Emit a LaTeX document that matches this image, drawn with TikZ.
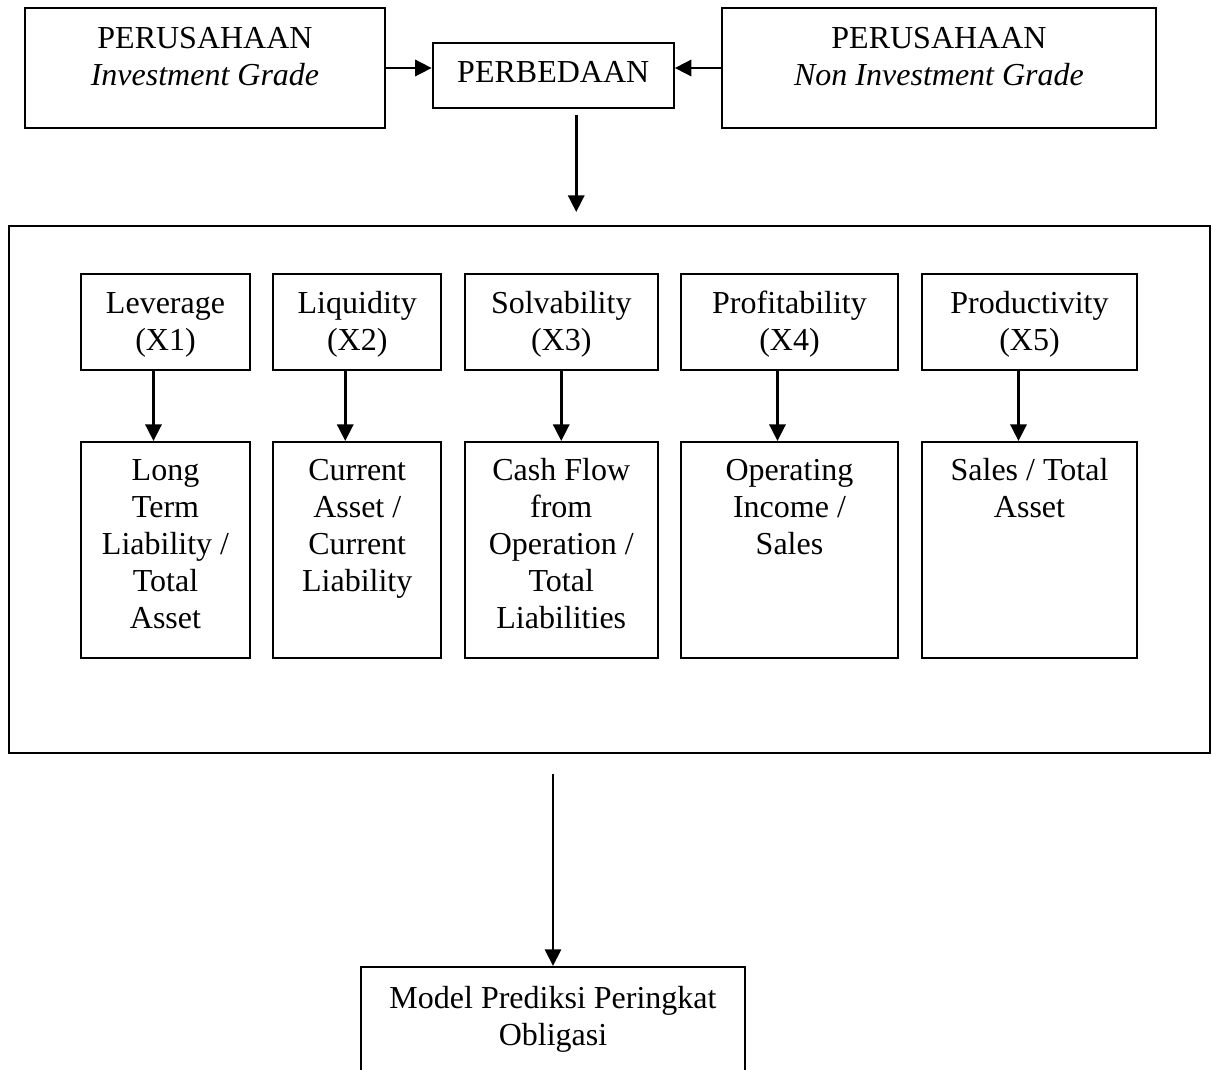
\documentclass[tikz,border=0pt]{standalone}
\usepackage{fontspec}
\setmainfont{Liberation Serif}
\usetikzlibrary{arrows.meta}
\newcommand{\boxtext}[1]{\begin{tabular}[t]{@{}c@{}}#1\end{tabular}}
\tikzset{
    box/.style = {
        draw, 
        line width = 0.75pt, 
        inner sep = 0pt,
        anchor = base,
        font = \fontsize{12}{13.875}\selectfont
    },
    frame/.style = {
        draw, 
        line width = 0.75pt, 
        inner sep = 0pt
    },
    link/.style = {
        line width = 1.1pt,
        -{Triangle[length = 6.2pt, width = 6pt]}
    }
}

\begin{document}
\begin{tikzpicture}[x = 0.375pt, y = -0.375pt]
    \useasboundingbox 
        (0, 0) rectangle (1213, 1070)
    ;

    % Companies
    \node 
        [box, minimum width = 135pt, text height = 15.375pt, text depth = 29.625pt] 
        (invest) at (205, 49) 
        {\boxtext{PERUSAHAAN\\\textit{Investment Grade}}}
    ;
    \node 
        [box, minimum width = 90.375pt, text height = 15pt, text depth = 9.375pt] 
        (beda) at (553.25, 83) 
        {PERBEDAAN}
    ;
    \node 
        [box, minimum width = 162.75pt, text height = 15.375pt, text depth = 29.625pt] 
        (noninv) at (939, 49) 
        {\boxtext{PERUSAHAAN\\\textit{Non Investment Grade}}}
    ;

    % Frame
    \node 
        [frame, minimum width = 450.375pt, minimum height = 197.625pt] 
        (faktor) at (609.5, 489.5) 
        {}
    ;

    % Ratios
    \tikzset{top/.style = {box, text height = 15pt, text depth = 21pt}}
    \tikzset{low/.style = {box, text height = 14.625pt, text depth = 66.375pt}}
    \node [top, minimum width = 63.375pt] (x1) at (165.5, 314) {\boxtext{Leverage\\(X1)}};
    \node [top, minimum width = 63pt] (x2) at (357.25, 314) {\boxtext{Liquidity\\(X2)}};
    \node [top, minimum width = 72.5pt] (x3) at (561.25, 314) {\boxtext{Solvability\\(X3)}};
    \node [top, minimum width = 81.375pt] (x4) at (789.5, 314) {\boxtext{Profitability\\(X4)}};
    \node [top, minimum width = 80.625pt] (x5) at (1029.5, 314) {\boxtext{Productivity\\(X5)}};

    \node [low, minimum width = 63.375pt] (r1) at (165.5, 481) 
        {\boxtext{Long\\Term\\Liability /\\Total\\Asset}};
    \node [low, minimum width = 63pt] (r2) at (357.25, 481) 
        {\boxtext{Current\\Asset /\\Current\\Liability}};
    \node [low, minimum width = 72.5pt] (r3) at (561.25, 481) 
        {\boxtext{Cash Flow\\from\\Operation /\\Total\\Liabilities}};
    \node [low, minimum width = 81.375pt] (r4) at (789.5, 481) 
        {\boxtext{Operating\\Income /\\Sales}};
    \node [low, minimum width = 80.625pt] (r5) at (1029.5, 481) 
        {\boxtext{Sales / Total\\Asset}};

    % Model
    \node 
        [box, minimum width = 144pt, text height = 15.375pt, text depth = 28.875pt] 
        (model) at (553, 1008) 
        {\boxtext{Model Prediksi Peringkat\\Obligasi}}
    ;

    % Arrows
    \draw 
        [link] (invest.east) -- (invest.east -| beda.west)
    ;
    \draw 
        [link] (noninv.west) -- (noninv.west -| beda.east)
    ;
    \draw 
        [link] (beda.south) ++(23, 6) -- ++(0, 97)
    ;
    \foreach \i/\d in {1/-12, 2/-12, 3/0, 4/-12, 5/-11}
        \draw 
            [link] ([xshift = \d*0.375pt]x\i.south) -- ([xshift = \d*0.375pt]r\i.north)
        ;
    \draw 
        [link, line width = 0.85pt] (model.north) ++(0, -192) -- (model.north)
    ;

\end{tikzpicture}
\end{document}
